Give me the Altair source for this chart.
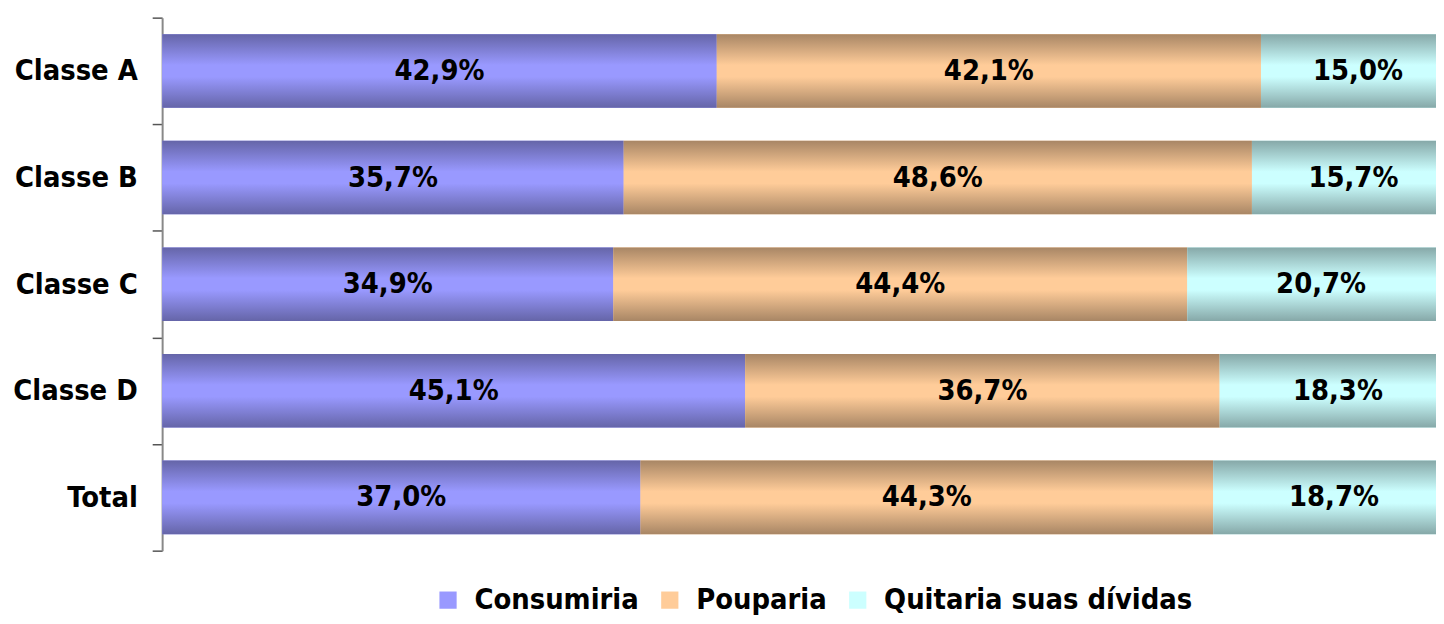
import altair as alt
import pandas as pd

categories = ["Classe A", "Classe B", "Classe C", "Classe D", "Total"]
series = ["Consumiria", "Pouparia", "Quitaria suas dívidas"]
consumiria = [42.9, 35.7, 34.9, 45.1, 37.0]
pouparia = [42.1, 48.6, 44.4, 36.7, 44.3]
quitaria = [15.0, 15.7, 20.7, 18.3, 18.7]

light = ["#9999ff", "#ffcc99", "#ccffff"]
dark = ["#6565a8", "#a88665", "#86a8a8"]

rows = []
for i, c in enumerate(categories):
    for j, (s, vals) in enumerate(zip(series, [consumiria, pouparia, quitaria])):
        rows.append({"cat": c, "serie": s, "ord": j, "v": vals[i],
                     "lbl": f"{vals[i]:.1f}%".replace(".", ",")})
df = pd.DataFrame(rows)

FONT = "DejaVu Sans Condensed"
FS = 29
BAND = 0.69

base = alt.Chart(df).transform_stack(
    stack="v", groupby=["cat"], as_=["v0", "v1"], sort=[alt.SortField("ord")]
)

y_scale = alt.Scale(paddingInner=0, paddingOuter=0)
y_enc = alt.Y("cat:N", sort=categories, title=None, scale=y_scale,
              axis=alt.Axis(tickBand="extent", labelFont=FONT, labelFontSize=FS,
                            labelFontWeight="bold", labelColor="#000",
                            labelPadding=15, tickSize=10, tickColor="#555",
                            tickWidth=1.5, domainColor="#888", domainWidth=2,
                            grid=False))
x_scale = alt.Scale(domain=[0, 98.54], nice=False, zero=True)

flat = base.mark_bar(clip=True, height={"band": BAND}).encode(
    y=y_enc,
    x=alt.X("v0:Q", scale=x_scale, axis=None, title=None),
    x2="v1:Q",
    color=alt.Color("serie:N", sort=series,
                    scale=alt.Scale(domain=series, range=light),
                    legend=alt.Legend(title=None, orient="none", direction="horizontal",
                                      legendX=273, legendY=571, symbolType="square",
                                      symbolSize=300, symbolStrokeWidth=0,
                                      labelFont=FONT, labelFontSize=FS,
                                      labelFontWeight="bold", labelColor="#000",
                                      labelOffset=12, columnPadding=16,
                                      labelLimit=400)),
)

layers = [flat]
for j, s in enumerate(series):
    grad = alt.Gradient(gradient="linear", x1=0, y1=0, x2=0, y2=1,
                        stops=[alt.GradientStop(offset=0, color=dark[j]),
                               alt.GradientStop(offset=0.42, color=light[j]),
                               alt.GradientStop(offset=0.58, color=light[j]),
                               alt.GradientStop(offset=1, color=dark[j])])
    layers.append(
        base.transform_filter(alt.datum.serie == s)
        .mark_bar(clip=True, color=grad, height={"band": BAND})
        .encode(
            y=alt.Y("cat:N", sort=categories, scale=y_scale),
            x=alt.X("v0:Q", scale=x_scale, axis=None),
            x2="v1:Q",
        )
    )

text = base.transform_calculate(mid="(datum.v0 + datum.v1) / 2").mark_text(
    font=FONT, fontSize=FS, fontWeight="bold", color="#000", baseline="middle",
    align="center"
).encode(
    y=alt.Y("cat:N", sort=categories, scale=y_scale),
    x=alt.X("mid:Q", scale=x_scale, axis=None),
    text="lbl:N",
)
layers.append(text)

chart = alt.layer(*layers).properties(
    width=1281, height=536,
    background="white",
    autosize=alt.AutoSizeParams(type="none"),
    padding={"left": 155, "top": 8, "right": 0, "bottom": 64},
).configure_view(strokeWidth=0, stroke="transparent")

chart.save("out.html", embed_options={"renderer": "svg", "actions": False})
